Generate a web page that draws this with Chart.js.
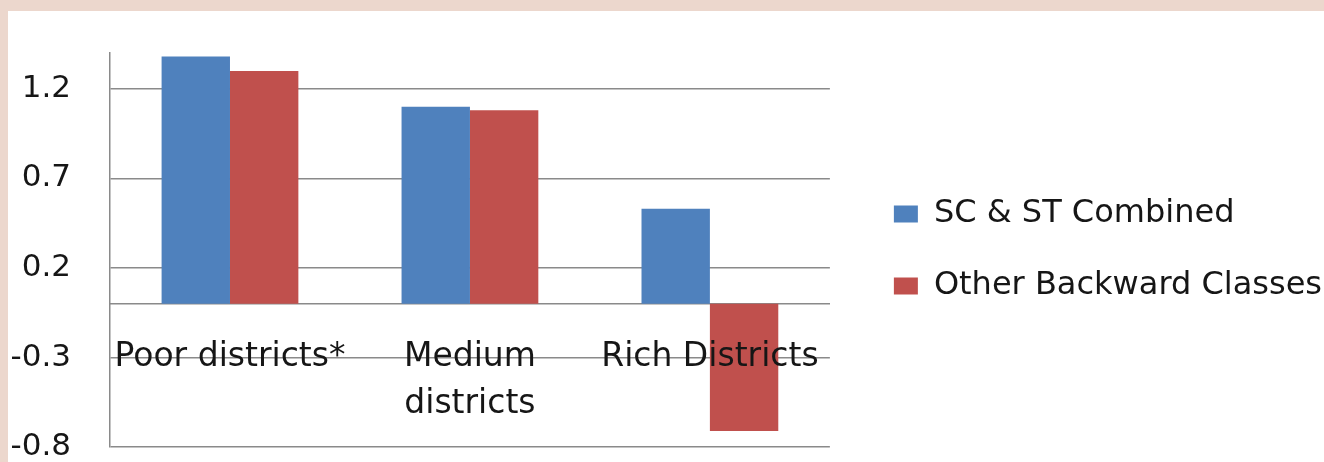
<!DOCTYPE html>
<html>
<head>
<meta charset="utf-8">
<script src="https://cdn.jsdelivr.net/npm/chart.js@4/dist/chart.umd.min.js"></script>
<style>
  html, body { margin: 0; padding: 0; }
  body { width: 1324px; height: 462px; overflow: hidden; background: #ecd7cd; position: relative; }
  #frame { position: absolute; left: 8px; top: 11px; width: 1316px; height: 451px; background: #fff; overflow: hidden; }
  #district-canvas { display: block; }
</style>
</head>
<body>
<div id="frame">
  <canvas id="district-canvas" width="1324" height="470"></canvas>
</div>
<script>
const categories = ['Poor districts*', ['Medium', 'districts'], 'Rich Districts'];
const scStCombined = [1.38, 1.10, 0.53];
const otherBackward = [1.30, 1.08, -0.71];
const yTicks = [-0.8, -0.3, 0.2, 0.7, 1.2];

const gridColor = '#8a8a8a';
const textColor = '#161616';

Chart.defaults.font.family = 'DejaVu Sans';

const ctx = document.getElementById('district-canvas');

const districtChart = new Chart(ctx, {
  type: 'bar',
  data: {
    labels: categories,
    datasets: [{
      label: 'SC & ST Combined',
      data: scStCombined,
      backgroundColor: '#4f81bd',
      categoryPercentage: 0.57,
      barPercentage: 1.0
    }, {
      label: 'Other Backward Classes',
      data: otherBackward,
      backgroundColor: '#c0504d',
      categoryPercentage: 0.57,
      barPercentage: 1.0
    }]
  },
  options: {
    responsive: false,
    animation: false,
    devicePixelRatio: 1,
    layout: {
      padding: { top: 42, right: 0, bottom: 34, left: 0 }
    },
    plugins: {
      tooltip: { enabled: false },
      legend: {
        position: 'right',
        fullSize: false,
        maxWidth: 600,
        labels: {
          boxWidth: 24,
          boxHeight: 17,
          padding: 40,
          color: textColor,
          font: { size: 32 }
        }
      }
    },
    scales: {
      x: {
        position: { y: 0 },
        grid: { display: false, drawTicks: false },
        border: { display: true, color: gridColor, width: 1.5 },
        ticks: {
          z: 1, // category labels sit on top of the negative bar
          color: textColor,
          padding: 31,
          maxRotation: 0,
          autoSkip: false,
          font: { size: 33, lineHeight: 1.4 }
        }
      },
      y: {
        min: -0.8,
        max: 1.4,
        afterBuildTicks: (scale) => {
          scale.ticks = yTicks.map(v => ({ value: v }));
        },
        afterFit: (scale) => {
          // fixed axis width, and no extra room asked above / below the plot
          scale.width = 102;
          scale.paddingTop = 0;
          scale.paddingBottom = 0;
        },
        grid: { color: gridColor, lineWidth: 1.5, drawTicks: false },
        border: { display: true, color: gridColor, width: 1.5 },
        ticks: {
          color: textColor,
          padding: 39,
          font: { size: 31 },
          callback: (value) => value.toFixed(1)
        }
      },
      // empty axis, only keeps a gap between the plot and the legend
      gap: {
        type: 'linear',
        position: 'right',
        grid: { display: false, drawTicks: false },
        border: { display: false },
        ticks: { display: false },
        afterFit: (scale) => { scale.width = 24; }
      }
    }
  }
});
</script>
</body>
</html>
